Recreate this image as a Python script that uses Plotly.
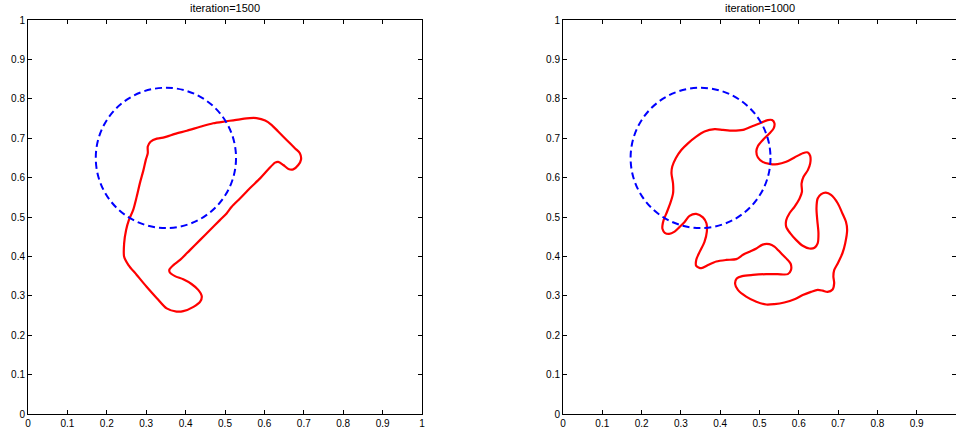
import plotly.graph_objects as go

# ---- data ----
titles = ["iteration=1500", "iteration=1000"]
tick_vals = [0, 0.1, 0.2, 0.3, 0.4, 0.5, 0.6, 0.7, 0.8, 0.9, 1]
tick_text = ["0", "0.1", "0.2", "0.3", "0.4", "0.5", "0.6", "0.7", "0.8", "0.9", "1"]

circle_cx = 0.35
circle_cy = 0.65
circle_r = 0.178

left_x = [0.335, 0.327, 0.311, 0.304, 0.304, 0.299, 0.293, 0.284, 0.276, 0.267, 0.256, 0.249,
          0.244, 0.244, 0.255, 0.276, 0.301, 0.327, 0.352, 0.377, 0.394, 0.420, 0.437, 0.441,
          0.432, 0.415, 0.394, 0.373, 0.360, 0.359, 0.369, 0.386, 0.411, 0.437, 0.462, 0.487,
          0.504, 0.517, 0.538, 0.563, 0.589, 0.610, 0.627, 0.635, 0.648, 0.661, 0.673, 0.686,
          0.693, 0.690, 0.678, 0.657, 0.635, 0.618, 0.602, 0.580, 0.563, 0.538, 0.504, 0.470,
          0.437, 0.403, 0.373, 0.352]
left_y = [0.700, 0.699, 0.691, 0.679, 0.662, 0.645, 0.619, 0.586, 0.552, 0.518, 0.492, 0.467,
          0.433, 0.399, 0.378, 0.353, 0.323, 0.294, 0.268, 0.260, 0.261, 0.272, 0.285, 0.299,
          0.315, 0.330, 0.342, 0.350, 0.359, 0.367, 0.378, 0.391, 0.416, 0.442, 0.467, 0.492,
          0.509, 0.526, 0.547, 0.573, 0.598, 0.621, 0.638, 0.640, 0.632, 0.622, 0.621, 0.632,
          0.646, 0.662, 0.674, 0.695, 0.717, 0.734, 0.745, 0.751, 0.751, 0.748, 0.743, 0.738,
          0.729, 0.719, 0.711, 0.704]

right_x = [0.253, 0.256, 0.265, 0.273, 0.280, 0.280, 0.276, 0.278, 0.287, 0.301, 0.318, 0.339,
           0.360, 0.386, 0.407, 0.432, 0.458, 0.483, 0.504, 0.521, 0.532, 0.538, 0.536, 0.525,
           0.508, 0.496, 0.492, 0.496, 0.508, 0.525, 0.546, 0.568, 0.589, 0.610, 0.623, 0.629,
           0.629, 0.623, 0.612, 0.607, 0.608, 0.602, 0.589, 0.576, 0.568, 0.568, 0.578, 0.593,
           0.610, 0.627, 0.640, 0.648, 0.650, 0.647, 0.645, 0.648, 0.657, 0.669, 0.682, 0.699,
           0.711, 0.720, 0.723, 0.718, 0.711, 0.699, 0.690, 0.688, 0.690, 0.686, 0.673, 0.661,
           0.648, 0.631, 0.610, 0.589, 0.563, 0.538, 0.517, 0.492, 0.466, 0.445, 0.438, 0.442,
           0.456, 0.483, 0.517, 0.546, 0.572, 0.580, 0.579, 0.568, 0.555, 0.538, 0.525, 0.508,
           0.492, 0.475, 0.458, 0.441, 0.415, 0.390, 0.369, 0.352, 0.339, 0.339, 0.348, 0.360,
           0.366, 0.365, 0.356, 0.339, 0.322, 0.310, 0.297, 0.284, 0.270, 0.259, 0.253]
right_y = [0.478, 0.492, 0.514, 0.535, 0.560, 0.585, 0.611, 0.628, 0.649, 0.670, 0.687, 0.704,
           0.717, 0.723, 0.721, 0.719, 0.721, 0.731, 0.739, 0.746, 0.746, 0.738, 0.725, 0.712,
           0.695, 0.680, 0.666, 0.651, 0.640, 0.635, 0.634, 0.640, 0.651, 0.662, 0.664, 0.655,
           0.636, 0.619, 0.602, 0.585, 0.564, 0.547, 0.526, 0.509, 0.492, 0.475, 0.459, 0.442,
           0.427, 0.420, 0.422, 0.433, 0.459, 0.492, 0.522, 0.547, 0.558, 0.562, 0.556, 0.535,
           0.509, 0.488, 0.467, 0.433, 0.408, 0.382, 0.365, 0.349, 0.332, 0.316, 0.310, 0.313,
           0.315, 0.310, 0.302, 0.291, 0.283, 0.279, 0.278, 0.285, 0.298, 0.315, 0.330, 0.344,
           0.350, 0.353, 0.355, 0.355, 0.355, 0.365, 0.382, 0.395, 0.408, 0.425, 0.431, 0.430,
           0.420, 0.412, 0.404, 0.393, 0.391, 0.387, 0.378, 0.370, 0.376, 0.391, 0.412, 0.437,
           0.463, 0.484, 0.499, 0.508, 0.503, 0.488, 0.475, 0.463, 0.457, 0.460, 0.470]

W, H = 956, 434
ML, MT, MB = 28, 20, 20
plot_w = W - ML
left_dom = [0, 394 / plot_w]
right_dom = [(563 - ML) / plot_w, 1.0]

fig = go.Figure()

curves = [(left_x, left_y, "x", "y"), (right_x, right_y, "x2", "y2")]
for cx, cy, xa, ya in curves:
    fig.add_trace(go.Scatter(
        x=cx + cx[:1], y=cy + cy[:1], mode="lines",
        line=dict(color="#ff0000", width=2.2, shape="spline", smoothing=0.8),
        xaxis=xa, yaxis=ya, showlegend=False, hoverinfo="skip"))

for xr, yr in [("x", "y"), ("x2", "y2")]:
    fig.add_shape(type="circle", xref=xr, yref=yr,
                  x0=circle_cx - circle_r, x1=circle_cx + circle_r,
                  y0=circle_cy - circle_r, y1=circle_cy + circle_r,
                  line=dict(color="#0000ff", width=2, dash="7px,4px"))

axis_common = dict(range=[0, 1], tickmode="array", tickvals=tick_vals, ticktext=tick_text,
                   ticks="inside", ticklen=4, tickwidth=1, tickcolor="black",
                   showline=True, linecolor="black", linewidth=1, mirror="ticks",
                   showgrid=False, zeroline=False, automargin=False,
                   tickfont=dict(family="Liberation Sans, Arial, sans-serif", size=10, color="black"))

fig.update_layout(
    width=W, height=H,
    margin=dict(l=ML, r=0, t=MT, b=MB, pad=0),
    paper_bgcolor="white", plot_bgcolor="white",
    hovermode=False,
    xaxis=dict(domain=left_dom, anchor="y", **axis_common),
    yaxis=dict(domain=[0, 1], anchor="x", **axis_common),
    xaxis2=dict(domain=right_dom, anchor="y2", **axis_common),
    yaxis2=dict(domain=[0, 1], anchor="x2", **axis_common),
)

for i, (t, xr) in enumerate(zip(titles, ["x domain", "x2 domain"])):
    fig.add_annotation(text=t, xref=xr, yref="paper", x=0.5, y=1, yanchor="bottom",
                       xanchor="center", yshift=4, showarrow=False,
                       font=dict(family="Liberation Sans, Arial, sans-serif", size=11, color="black"))

fig.write_html("out.html",
               config={"displayModeBar": False},
               post_script="document.body.style.margin='0';document.body.style.overflow='hidden';")
